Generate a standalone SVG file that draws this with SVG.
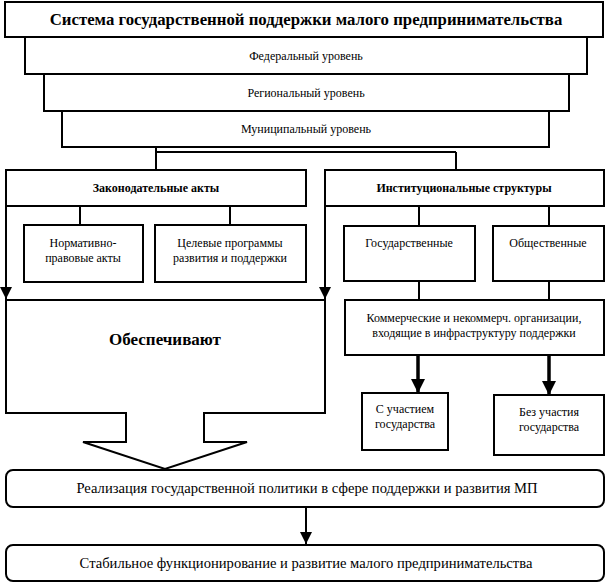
<svg xmlns="http://www.w3.org/2000/svg" width="607" height="583" viewBox="0 0 607 583">
<defs>
<style>
.box{fill:#fff;stroke:#000;stroke-width:2}
.t{font-family:"Liberation Serif","Times New Roman",serif;font-size:12px;text-anchor:middle;fill:#000}
.b{font-weight:bold}
.ln{stroke:#000;stroke-width:2;fill:none}
.thick{stroke:#000;stroke-width:3.5;fill:none}
</style>
<marker id="ahs" viewBox="0 0 10 10" refX="10" refY="5" markerWidth="12" markerHeight="12" markerUnits="userSpaceOnUse" orient="auto">
<path d="M0,0 L10,5 L0,10 z" fill="#000"/>
</marker>
<marker id="ahb" viewBox="0 0 10 10" refX="10" refY="5" markerWidth="14" markerHeight="14" markerUnits="userSpaceOnUse" orient="auto">
<path d="M0,0 L10,5 L0,10 z" fill="#000"/>
</marker>
</defs>
<rect width="607" height="583" fill="#fff"/>
<g id="connectors">
<path class="ln" d="M156,147 V170 M156,152 H456 M456,152 V170"/>
<path class="ln" d="M80,206 V225 M230,206 V225"/>
<path class="ln" d="M419,206 V226 M549,206 V226 M419,281 V300 M549,281 V300"/>
<path class="ln" d="M6,206 V299" marker-end="url(#ahs)"/>
<path class="ln" d="M325,206 V299" marker-end="url(#ahs)"/>
<path class="thick" d="M418,355 V393" marker-end="url(#ahb)"/>
<path class="thick" d="M549,355 V395" marker-end="url(#ahb)"/>
<path class="ln" d="M306,507 V544" marker-end="url(#ahs)"/>
</g>
<g id="n-title"><rect class="box" x="5" y="2" width="598" height="35"/><text class="t b" x="306" y="25" style="font-size:16.8px">Система государственной поддержки малого предпринимательства</text></g>
<g id="n-fed"><rect class="box" x="25" y="37" width="562" height="37"/><text class="t" x="306" y="60">Федеральный уровень</text></g>
<g id="n-reg"><rect class="box" x="44" y="74" width="525" height="37"/><text class="t" x="306" y="97">Региональный уровень</text></g>
<g id="n-mun"><rect class="box" x="62" y="111" width="487" height="36"/><text class="t" x="306" y="133">Муниципальный уровень</text></g>
<g id="n-zak"><rect class="box" x="6" y="170" width="300" height="36"/><text class="t b" x="156" y="192">Законодательные акты</text></g>
<g id="n-inst"><rect class="box" x="325" y="170" width="279" height="36"/><text class="t b" x="464" y="192">Институциональные структуры</text></g>
<g id="n-norm"><rect class="box" x="24" y="225" width="119" height="57"/><text class="t" x="83" y="247">Нормативно-</text><text class="t" x="83" y="262">правовые акты</text></g>
<g id="n-cel"><rect class="box" x="155" y="225" width="151" height="57"/><text class="t" x="230" y="247">Целевые программы</text><text class="t" x="230" y="262">развития и поддержки</text></g>
<g id="n-gos"><rect class="box" x="344" y="226" width="131" height="55"/><text class="t" x="409" y="247">Государственные</text></g>
<g id="n-obsh"><rect class="box" x="493" y="226" width="111" height="55"/><text class="t" x="548" y="247">Общественные</text></g>
<g id="n-obesp"><path class="box" d="M6,300 H325 V413 H204 V442 H247 L165,469 L83,442 H126 V413 H6 Z"/><text class="t b" x="165" y="345" style="font-size:17px">Обеспечивают</text></g>
<g id="n-kom"><rect class="box" x="345" y="300" width="259" height="55"/><text class="t" x="474" y="322">Коммерческие и некоммерч. организации,</text><text class="t" x="474" y="337">входящие в инфраструктуру поддержки</text></g>
<g id="n-such"><rect class="box" x="362" y="393" width="86" height="57"/><text class="t" x="405" y="413">С участием</text><text class="t" x="405" y="428">государства</text></g>
<g id="n-bez"><rect class="box" x="494" y="395" width="110" height="60"/><text class="t" x="549" y="416">Без участия</text><text class="t" x="549" y="431">государства</text></g>
<g id="n-real"><rect class="box" x="6" y="470" width="598" height="37" rx="7"/><text class="t" x="307" y="493" style="font-size:14.6px">Реализация государственной политики в сфере поддержки и развития МП</text></g>
<g id="n-stab"><rect class="box" x="6" y="545" width="598" height="36" rx="7"/><text class="t" x="306" y="568" style="font-size:14.6px">Стабильное функционирование и развитие малого предпринимательства</text></g>
</svg>
